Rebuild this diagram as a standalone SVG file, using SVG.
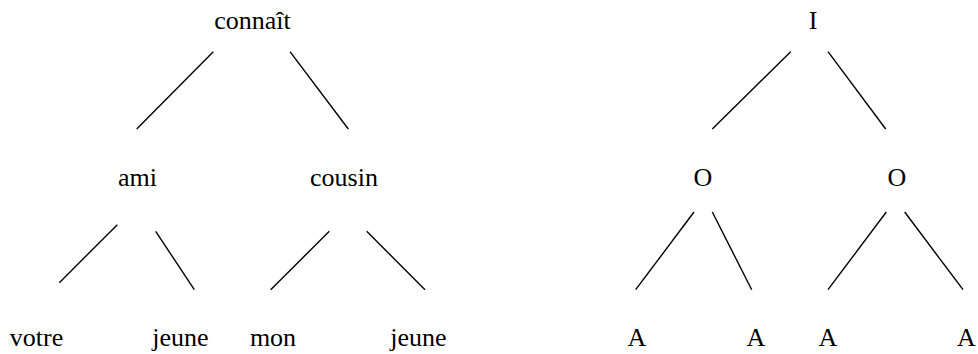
<svg xmlns="http://www.w3.org/2000/svg" width="978" height="354" viewBox="0 0 978 354">
  <style>
    .lbl { font-family: 'Liberation Serif', 'Times New Roman', serif; font-size: 26px; fill: #000; text-anchor: middle; }
    .edge { stroke: #000; stroke-width: 1.4; fill: none; }
  </style>
  <rect width="978" height="354" fill="#fff"/>

  <!-- tree edges -->
  <g id="connectors">
    <line class="edge" x1="213.3" y1="51.7" x2="136.7" y2="129"/>
    <line class="edge" x1="290" y1="51.7" x2="348.3" y2="129"/>
    <line class="edge" x1="117.3" y1="224.7" x2="59.3" y2="282.7"/>
    <line class="edge" x1="155.7" y1="231.3" x2="194.3" y2="289.7"/>
    <line class="edge" x1="329.3" y1="231.3" x2="270.7" y2="289.7"/>
    <line class="edge" x1="366.7" y1="231.3" x2="425" y2="289.7"/>

    <line class="edge" x1="790.7" y1="51.7" x2="712.3" y2="129"/>
    <line class="edge" x1="828" y1="51.7" x2="885.7" y2="129"/>
    <line class="edge" x1="694" y1="212" x2="635.7" y2="289.7"/>
    <line class="edge" x1="712.3" y1="212" x2="751.7" y2="289.7"/>
    <line class="edge" x1="886.3" y1="212" x2="828" y2="289.7"/>
    <line class="edge" x1="904.7" y1="212" x2="963" y2="289.7"/>
  </g>

  <!-- left tree: words -->
  <g id="n-connait"><text class="lbl" x="252.5" y="28.5">connaît</text></g>
  <g id="n-ami"><text class="lbl" x="137.5" y="186">ami</text></g>
  <g id="n-cousin"><text class="lbl" x="344" y="186">cousin</text></g>
  <g id="n-votre"><text class="lbl" x="36.5" y="346">votre</text></g>
  <g id="n-jeune1"><text class="lbl" x="180.5" y="346">jeune</text></g>
  <g id="n-mon"><text class="lbl" x="273" y="346">mon</text></g>
  <g id="n-jeune2"><text class="lbl" x="418.5" y="346">jeune</text></g>

  <!-- right tree: categories -->
  <g id="n-I"><text class="lbl" x="813" y="28.5">I</text></g>
  <g id="n-O1"><text class="lbl" x="703" y="186">O</text></g>
  <g id="n-O2"><text class="lbl" x="897" y="186">O</text></g>
  <g id="n-A1"><text class="lbl" x="637" y="346">A</text></g>
  <g id="n-A2"><text class="lbl" x="756" y="346">A</text></g>
  <g id="n-A3"><text class="lbl" x="828" y="346">A</text></g>
  <g id="n-A4"><text class="lbl" x="966.5" y="346">A</text></g>
</svg>
